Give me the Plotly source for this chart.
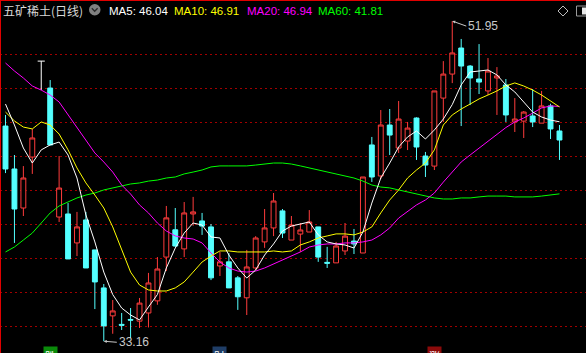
import plotly.graph_objects as go

# ---------------- data ----------------
title_text = "五矿稀土(日线)"
ma_labels = ["MA5: 46.04", "MA10: 46.91", "MA20: 46.94", "MA60: 41.81"]

open_ = [45.79, 43.27, 40.98, 43.97, 49.60, 48.02, 40.45, 40.63, 38.93, 40.28,
         38.52, 36.29, 34.65, 34.15, 34.44, 34.34, 34.82, 35.53, 38.10, 39.70,
         38.58, 40.63, 40.22, 39.87, 37.58, 37.82, 36.88, 35.71, 37.46, 38.99,
         39.81, 40.81, 39.10, 39.45, 39.57, 39.87, 37.79, 37.76, 38.46, 39.04,
         38.34, 44.68, 42.86, 45.85, 44.50, 44.91, 46.26, 44.03, 43.44, 47.43,
         48.84, 50.37, 49.31, 48.55, 47.85, 48.61, 48.20, 46.03, 46.08, 46.38,
         45.96, 46.97, 45.50]
high = [46.44, 44.09, 43.44, 45.62, 49.60, 48.49, 44.03, 41.27, 40.75, 40.75,
        38.52, 36.52, 35.58, 34.82, 35.11, 35.70, 37.17, 38.10, 41.10, 40.98,
        41.33, 41.63, 40.69, 40.04, 38.40, 38.34, 36.99, 38.52, 39.33, 40.92,
        41.86, 40.92, 40.51, 40.10, 40.86, 39.87, 38.70, 38.99, 40.10, 39.75,
        42.80, 45.15, 46.73, 46.79, 47.26, 46.03, 46.30, 44.27, 47.85, 49.60,
        51.95, 50.90, 49.37, 50.60, 49.78, 49.25, 48.55, 47.43, 46.67, 47.96,
        47.85, 47.10, 45.85]
low = [43.03, 38.93, 40.51, 42.98, 47.90, 44.68, 40.16, 37.99, 38.16, 37.46,
       35.05, 33.16, 33.60, 33.82, 33.35, 33.94, 33.97, 35.30, 37.28, 38.70,
       38.10, 39.94, 39.40, 36.75, 36.99, 36.29, 35.00, 34.70, 37.34, 38.64,
       39.33, 39.22, 39.10, 38.40, 39.57, 37.82, 37.46, 37.76, 38.22, 38.28,
       38.34, 42.51, 42.68, 44.09, 44.21, 44.38, 43.80, 42.80, 43.21, 46.03,
       48.31, 45.79, 47.02, 47.67, 47.61, 46.44, 46.03, 45.44, 45.09, 45.73,
       45.96, 45.03, 43.80]
close = [43.27, 40.92, 42.74, 45.09, 49.60, 44.68, 42.15, 37.99, 39.87, 37.46,
         36.64, 34.06, 34.94, 34.10, 34.40, 35.40, 36.58, 37.40, 40.40, 38.75,
         40.69, 40.75, 39.92, 36.88, 37.82, 36.29, 35.77, 37.52, 39.22, 39.81,
         41.39, 39.51, 39.98, 39.69, 40.16, 38.10, 37.74, 38.75, 39.33, 38.87,
         42.80, 42.80, 45.85, 45.26, 46.20, 45.67, 44.56, 43.50, 47.85, 48.84,
         50.08, 49.31, 48.61, 48.37, 49.02, 48.73, 46.44, 46.20, 46.61, 46.03,
         46.97, 45.62, 44.97]
flat_days = [4]  # one-price (open = close = high) day drawn in white

ma5 = [47.08, 45.85, 44.50, 43.62, 44.39, 44.68, 44.85, 44.09, 42.74, 40.57,
       38.99, 37.22, 35.90, 35.11, 34.70, 34.41, 35.17, 35.90, 37.46, 38.63,
       39.51, 40.10, 39.98, 39.28, 39.22, 38.22, 37.46, 36.87, 37.34, 38.22,
       38.87, 39.63, 39.92, 40.04, 40.16, 39.40, 38.99, 38.87, 38.81, 38.63,
       39.57, 41.27, 42.74, 43.62, 44.56, 45.15, 45.50, 45.03, 45.56, 46.20,
       47.05, 48.20, 48.96, 49.02, 49.08, 48.79, 48.20, 47.79, 47.20, 46.61,
       46.32, 46.14, 46.04]
ma10 = [46.61, 46.09, 45.73, 45.62, 46.03, 45.85, 45.32, 44.39, 43.33, 42.45,
        41.74, 40.98, 39.87, 38.52, 37.22, 36.46, 36.17, 36.11, 36.11, 36.29,
        36.64, 37.22, 37.81, 38.16, 38.46, 38.46, 38.40, 38.40, 38.40, 38.40,
        38.46, 38.40, 38.46, 38.81, 38.99, 39.22, 39.34, 39.46, 39.46, 39.40,
        39.57, 39.87, 40.69, 41.45, 42.04, 42.74, 43.21, 43.62, 44.39, 45.85,
        46.44, 46.79, 47.08, 47.38, 47.61, 47.85, 48.14, 48.32, 48.14, 47.90,
        47.61, 47.26, 46.91]
ma20 = [49.49, 49.02, 48.61, 48.14, 47.90, 47.61, 47.20, 46.44, 45.70, 44.91,
        44.21, 43.68, 43.09, 42.33, 41.80, 41.16, 40.69, 40.10, 39.63, 39.34,
        39.22, 39.16, 38.93, 38.34, 37.81, 37.46, 37.28, 37.22, 37.28, 37.46,
        37.69, 37.93, 38.16, 38.40, 38.69, 38.81, 38.87, 38.87, 38.93, 38.93,
        38.99, 39.10, 39.40, 39.81, 40.39, 40.75, 41.16, 41.45, 41.86, 42.50,
        43.09, 43.68, 44.09, 44.50, 44.91, 45.32, 45.70, 46.03, 46.26, 46.55,
        46.85, 46.97, 46.94]
ma60 = [38.40, 38.69, 39.10, 39.51, 40.10, 40.69, 41.10, 41.33, 41.57, 41.74,
        41.86, 42.04, 42.16, 42.27, 42.39, 42.45, 42.56, 42.62, 42.74, 42.80,
        42.98, 43.09, 43.21, 43.39, 43.45, 43.45, 43.45, 43.45, 43.50, 43.56,
        43.62, 43.62, 43.56, 43.45, 43.33, 43.21, 43.09, 42.98, 42.86, 42.74,
        42.56, 42.33, 42.21, 42.16, 42.04, 41.92, 41.80, 41.68, 41.57, 41.51,
        41.51, 41.57, 41.57, 41.63, 41.68, 41.68, 41.68, 41.63, 41.63, 41.63,
        41.68, 41.74, 41.81]
grid_levels = [34, 36, 38, 40, 42, 44, 46, 48, 50]
bottom_tags = [("跌", 43, "#0a8a0a"), ("财", 212, "#1f3d66"), ("涨", 427, "#8c0a0a")]

# ---------------- styling ----------------
W, H = 586, 353
RED = "#ff3c3c"
CYAN = "#54ffff"
GRID = "#a00000"
LABEL_GRAY = "#c8c8c8"

def px(x):
    return x / W

def py(y):
    return 1 - y / H

idx = list(range(len(close)))
c_idx = [i for i in idx if i not in flat_days]

fig = go.Figure()

fig.add_trace(go.Candlestick(
    x=c_idx,
    open=[open_[i] for i in c_idx],
    high=[high[i] for i in c_idx],
    low=[low[i] for i in c_idx],
    close=[close[i] for i in c_idx],
    increasing=dict(line=dict(color=RED, width=1), fillcolor="#000000"),
    decreasing=dict(line=dict(color=CYAN, width=1), fillcolor=CYAN),
    whiskerwidth=0, hoverinfo="skip", showlegend=False,
))

for i in flat_days:
    fig.add_trace(go.Scatter(
        x=[i, i, None, i - 0.4, i + 0.4],
        y=[low[i], high[i], None, high[i], high[i]],
        mode="lines", line=dict(color="#ffffff", width=1),
        hoverinfo="skip", showlegend=False,
    ))

for vals, col in [(ma60, "#00ff00"), (ma20, "#ff00ff"), (ma10, "#ffff00"), (ma5, "#ffffff")]:
    fig.add_trace(go.Scatter(x=idx, y=vals, mode="lines",
                             line=dict(color=col, width=1),
                             hoverinfo="skip", showlegend=False))

annotations = []
# header
annotations.append(dict(xref="paper", yref="paper", x=px(1), y=py(10),
                        xanchor="left", yanchor="middle", showarrow=False,
                        text=title_text,
                        font=dict(family="Noto Sans CJK SC", size=12, color="#d8d8d8")))
label_x = [107, 172, 245, 316]
label_col = ["#ffffff", "#ffff00", "#ff00ff", "#00ff00"]
for t, x, c in zip(ma_labels, label_x, label_col):
    annotations.append(dict(xref="paper", yref="paper", x=px(x), y=py(10.5),
                            xanchor="left", yanchor="middle", showarrow=False,
                            text=t, font=dict(family="Liberation Sans", size=11.5, color=c)))

# extreme value marks
hi_i = high.index(max(high))
lo_i = low.index(min(low))
annotations.append(dict(x=hi_i, y=high[hi_i], xref="x", yref="y",
                        text=f"{high[hi_i]:.2f}", showarrow=True, arrowhead=2,
                        arrowsize=0.6, arrowwidth=1, arrowcolor=LABEL_GRAY,
                        ax=14, ay=5, xanchor="left", yanchor="middle", standoff=0,
                        font=dict(family="Liberation Sans", size=12, color=LABEL_GRAY)))
annotations.append(dict(x=lo_i, y=low[lo_i], xref="x", yref="y",
                        text=f"{low[lo_i]:.2f}", showarrow=True, arrowhead=2,
                        arrowsize=0.6, arrowwidth=1, arrowcolor=LABEL_GRAY,
                        ax=13, ay=1, xanchor="left", yanchor="middle", standoff=0,
                        font=dict(family="Liberation Sans", size=12, color=LABEL_GRAY)))

# bottom tags (cut off by the window edge, as in the reference)
for t, x, c in bottom_tags:
    annotations.append(dict(xref="paper", yref="paper", x=px(x), y=py(346),
                            xanchor="left", yanchor="top", showarrow=False,
                            text=t, bgcolor=c, borderpad=1,
                            font=dict(family="Noto Sans CJK SC", size=11, color="#ffffff")))

shapes = [
    dict(type="line", xref="paper", yref="paper", x0=px(0.5), x1=px(0.5), y0=0, y1=1,
         line=dict(color="#e00000", width=1)),
    dict(type="line", xref="paper", yref="paper", x0=0, x1=1, y0=py(0.5), y1=py(0.5),
         line=dict(color="#e00000", width=1)),
    # header icon: grey circle with chevron
    dict(type="circle", xref="paper", yref="paper", x0=px(89), x1=px(100.5),
         y0=py(15.5), y1=py(4), fillcolor="#808080", line=dict(width=0)),
    dict(type="path", xref="paper", yref="paper",
         path=f"M {px(91.8)},{py(8.3)} L {px(94.7)},{py(11.3)} L {px(97.6)},{py(8.3)}",
         line=dict(color="#2a2a2a", width=1.3)),
    # right-top icons
    dict(type="path", xref="paper", yref="paper",
         path=f"M {px(563)},{py(6)} L {px(568)},{py(11)} L {px(563)},{py(16)} L {px(558)},{py(11)} Z",
         line=dict(color="#bdbdbd", width=1)),
    dict(type="rect", xref="paper", yref="paper", x0=px(576.5), x1=px(590), y0=py(16), y1=py(6),
         line=dict(color="#9a9a9a", width=1)),
    dict(type="rect", xref="paper", yref="paper", x0=px(582), x1=px(587), y0=py(14.5), y1=py(7.5),
         fillcolor="#e8e8e8", line=dict(width=0)),
]

spacing = 8.935
x0 = -5.5 / spacing
x1 = x0 + W / spacing
ppu = 17.04
y_top = 50 + 54.3 / ppu
y_bot = y_top - H / ppu

fig.update_layout(
    width=W, height=H,
    margin=dict(l=0, r=0, t=0, b=0),
    paper_bgcolor="#000000", plot_bgcolor="#000000",
    boxgap=0.22,
    xaxis=dict(range=[x0, x1], visible=False, showgrid=False, zeroline=False,
               rangeslider=dict(visible=False), fixedrange=True),
    yaxis=dict(range=[y_bot, y_top], tickvals=grid_levels, showticklabels=False,
               showgrid=True, gridcolor=GRID, gridwidth=1, griddash="2px,3px",
               zeroline=False, showline=False, ticks="", fixedrange=True),
    annotations=annotations,
    shapes=shapes,
    showlegend=False,
    hovermode=False,
)

fig.write_html("out.html", config={"displayModeBar": False})
